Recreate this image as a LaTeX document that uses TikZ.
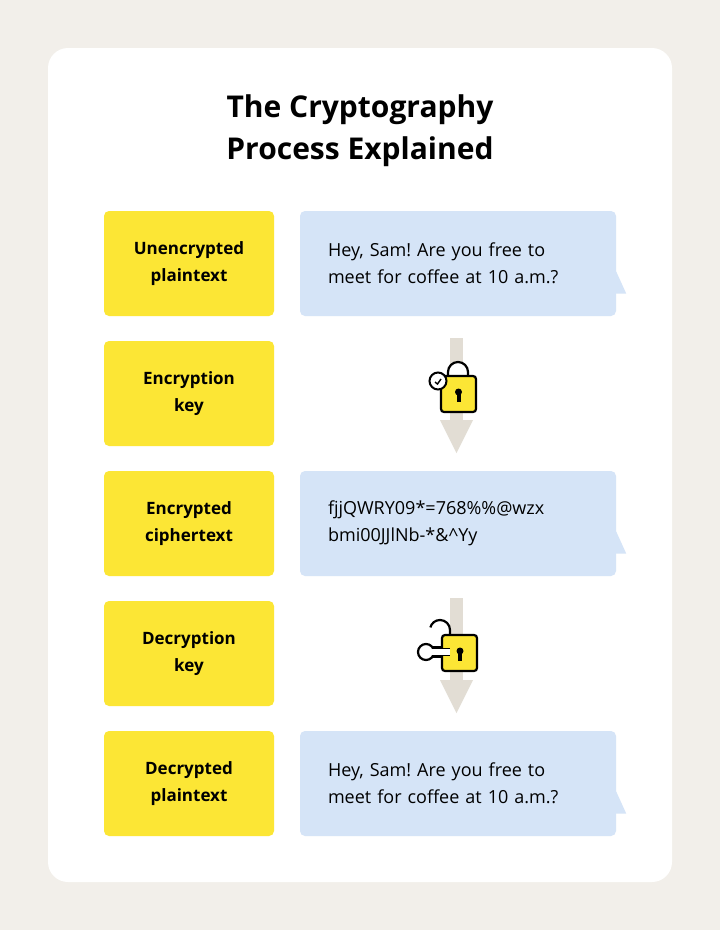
\documentclass[tikz,border=0pt]{standalone}
\usepackage{fontspec}
\setmainfont{Open Sans}
\frenchspacing
\begin{document}
\begin{tikzpicture}[x=1pt,y=-1pt,
  lab/.style={fill=ylw,rounded corners=5pt,minimum width=170pt,minimum height=105pt,align=center,font=\fontsize{17}{27}\selectfont\bfseries,inner sep=0},
  bub/.style={fill=blu,rounded corners=5pt,minimum width=316pt,minimum height=105pt,align=left,text width=260pt,font=\fontsize{18}{27}\selectfont,inner sep=0},
  lk/.style={draw=black,line width=2.2pt}]
\definecolor{bg}{HTML}{F2EFEA}
\definecolor{ylw}{HTML}{FCE635}
\definecolor{blu}{HTML}{D5E4F7}
\definecolor{arrc}{HTML}{E2DDD4}
\fill[bg] (0,0) rectangle (720,930);
\fill[white,rounded corners=20pt] (48,48) rectangle (672,882);
\node (title) at (360,131) [align=center,font=\fontsize{30}{42}\selectfont\bfseries] {The Cryptography\\Process Explained};
\foreach \n/\y/\t in {l1/263.5/{Unencrypted\\plaintext},l2/393.5/{Encryption\\key},l3/523.5/{Encrypted\\ciphertext},l4/653.5/{Decryption\\key},l5/783.5/{Decrypted\\plaintext}}
  \node[lab] (\n) at (189,\y) {\t};
\foreach \n/\y/\t in {b1/263.5/{Hey, Sam! Are you free to\\meet for coffee at 10 a.m.?},b3/523.5/{fjjQWRY09*=768\%\%@wzx\\bmi00JJlNb-*\&\^{}Yy},b5/783.5/{Hey, Sam! Are you free to\\meet for coffee at 10 a.m.?}}{
  \node[bub] (\n) at (458,\y) {\t};
  \fill[blu] ([yshift=-8pt]\n.east) -- ++(0,22) -- ++(10,0) -- cycle;}
% arrows
\foreach \a in {0,260}{
  \fill[arrc] (450,338+\a) rectangle (463,422+\a);
  \fill[arrc] (440,420+\a) -- (473,420+\a) -- (456.5,453+\a) -- cycle;}
% lock 1
\draw[lk,fill=white] (448,377) -- (448,372) arc[start angle=180,end angle=360,radius=10] -- (468,377);
\draw[lk,fill=ylw,rounded corners=3pt] (441,376) rectangle (476,412);
\fill (458.5,392) circle (3.5); \fill (456.5,392) rectangle (460.5,402);
\draw[line width=2pt,fill=white] (438,381) circle (8.5);
\draw[line width=1.4pt] (435,382) -- (437.5,384) -- (441,379);
% lock 2
\draw[lk] (450,636) -- (450,630) arc[start angle=0,end angle=-165,radius=10];
\draw[lk,fill=white] (428,647) -- (442,647) -- (442,657) -- (428,657);
\draw[lk,fill=white] (426,652) circle (8);
\fill[white] (427,649) rectangle (444,655);
\draw[lk,fill=ylw,rounded corners=3pt] (442,635) rectangle (477,671);
\fill[white] (440,649) rectangle (450,655);
\draw[line width=1.5pt] (432,648.3) -- (450,648.3) (432,655.7) -- (450,655.7);
\fill (460,651) circle (3.5); \fill (458,651) rectangle (462,661);
\end{tikzpicture}
\end{document}
